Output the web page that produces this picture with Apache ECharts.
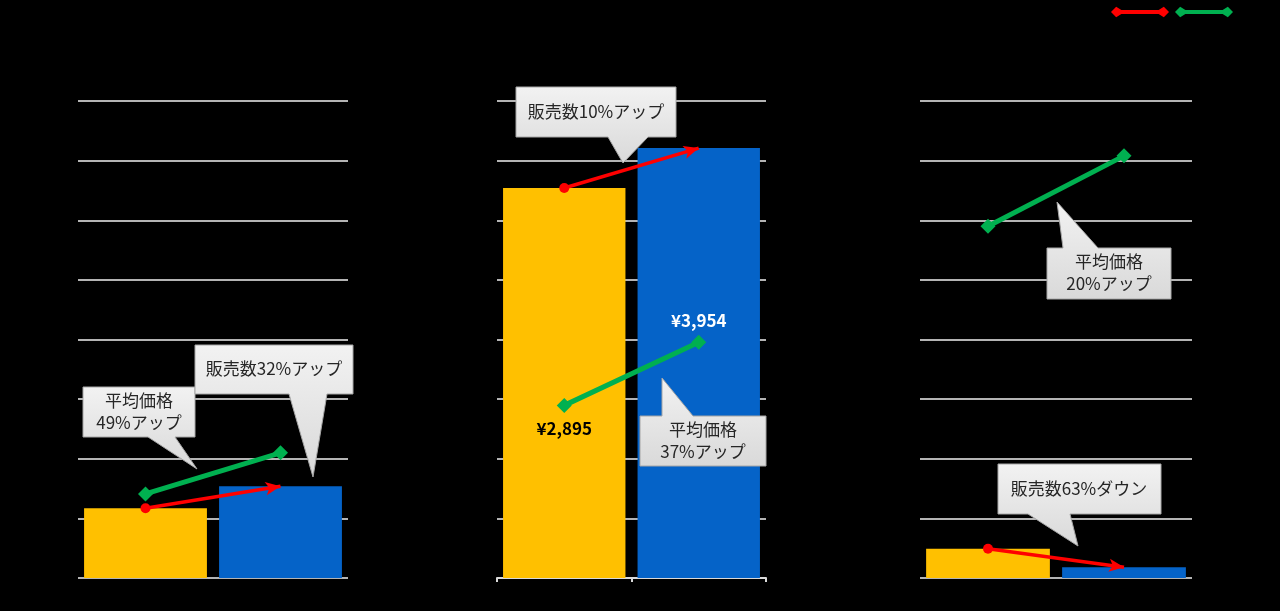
<!DOCTYPE html>
<html>
<head>
<meta charset="utf-8">
<script src="https://cdn.jsdelivr.net/npm/echarts@6/dist/echarts.min.js"></script>
<style>
  html, body { margin: 0; padding: 0; background: #000; }
  #main { width: 1280px; height: 611px; }
</style>
</head>
<body>
<div id="main"></div>
<script>
// 前年 / 今年
var categories = ['前年', '今年'];

// 販売数 (bars + red arrows)
var salesLeft = [1.17, 1.54];
var salesMid = [6.54, 7.21];
var salesRight = [0.49, 0.18];

// 平均価格 (green lines)
var priceLeft = [1410, 2100];
var priceMid = [2895, 3954];
var priceRight = [5900, 7080];

var barColors = ['#FFC000', '#0563C8'];
var fontJP = '"Noto Sans CJK JP", "Noto Sans", sans-serif';

var chart = echarts.init(document.getElementById('main'));

var grids = [
  { left: 78, width: 270, top: 101, height: 477 },
  { left: 497, width: 269, top: 101, height: 477 },
  { left: 920, width: 272, top: 101, height: 477 }
];

var xAxes = [], yAxes = [], series = [];
var salesSets = [salesLeft, salesMid, salesRight];
var priceSets = [priceLeft, priceMid, priceRight];

function redData(sales, rot) {
  return [
    { value: sales[0], symbol: 'circle', symbolSize: 10 },
    { value: sales[1], symbol: 'arrow', symbolSize: [10, 15], symbolRotate: rot }
  ];
}

for (var i = 0; i < 3; i++) {
  xAxes.push({
    type: 'category', gridIndex: i, data: categories,
    axisLine: { show: i == 1, lineStyle: { color: '#d9d9d9', width: 2 } },
    axisTick: { show: i == 1, length: 4, lineStyle: { color: '#d9d9d9', width: 2 } },
    axisLabel: { show: false }
  });
  yAxes.push({
    type: 'value', gridIndex: i, min: 0, max: 8, interval: 1,
    axisLabel: { show: false }, axisLine: { show: false }, axisTick: { show: false },
    splitLine: { show: true, lineStyle: { color: '#b4b4b4', width: 2 } }
  });
  yAxes.push({
    type: 'value', gridIndex: i, min: 0, max: 8000, interval: 1000, show: false,
    splitLine: { show: false }
  });

  var sales = salesSets[i];
  var price = priceSets[i];

  series.push({
    type: 'bar', name: 'bars' + i, xAxisIndex: i, yAxisIndex: i * 2,
    barCategoryGap: '9%',
    data: sales.map(function (v, k) { return { value: v, itemStyle: { color: barColors[k] } }; }),
    z: 2
  });

  series.push({
    type: 'line', name: '販売数', id: 'red' + i, xAxisIndex: i, yAxisIndex: i * 2,
    data: redData(sales, 0),
    lineStyle: { color: '#ff0000', width: 3.5 },
    itemStyle: { color: '#ff0000' },
    z: 4
  });

  var priceLabel = i == 1;
  series.push({
    type: 'line', name: '平均価格', xAxisIndex: i, yAxisIndex: i * 2 + 1,
    symbol: 'diamond', symbolSize: 15,
    data: [
      { value: price[0], label: { show: priceLabel, position: 'bottom', distance: 7, color: '#000' } },
      { value: price[1], label: { show: priceLabel, position: 'top', distance: 6, color: '#fff' } }
    ],
    label: {
      fontFamily: fontJP, fontWeight: 'bold', fontSize: 17,
      formatter: function (p) { return '¥' + p.value.toLocaleString('en-US'); }
    },
    lineStyle: { color: '#00b050', width: 5 },
    itemStyle: { color: '#00b050' },
    z: 5
  });
}

// speech bubbles
var bubbles = [
  { pts: [[83,387],[195,387],[195,437],[175,437],[197,469],[148,437],[83,437]], text: '平均価格\n49%アップ', c: [139, 412] },
  { pts: [[195,345],[353,345],[353,394],[327,394],[313,477],[289,394],[195,394]], text: '販売数32%アップ', c: [274, 369] },
  { pts: [[516,87],[676,87],[676,137],[648,137],[623,163],[608,137],[516,137]], text: '販売数10%アップ', c: [596, 112] },
  { pts: [[640,416],[662,416],[662,378],[693,416],[766,416],[766,466],[640,466]], text: '平均価格\n37%アップ', c: [703, 441] },
  { pts: [[1047,248],[1063,248],[1057,202],[1098,248],[1171,248],[1171,299],[1047,299]], text: '平均価格\n20%アップ', c: [1109, 273] },
  { pts: [[998,464],[1161,464],[1161,514],[1070,514],[1078,546],[1028,514],[998,514]], text: '販売数63%ダウン', c: [1079, 489] }
];

var graphics = [];
bubbles.forEach(function (b) {
  graphics.push({
    type: 'polygon', z: 100,
    shape: { points: b.pts },
    style: {
      fill: new echarts.graphic.LinearGradient(0, 0, 0, 1, [
        { offset: 0, color: '#f2f2f2' }, { offset: 1, color: '#d9d9d9' }
      ]),
      stroke: '#a6a6a6', lineWidth: 1
    }
  });
  graphics.push({
    type: 'text', z: 101, x: b.c[0], y: b.c[1],
    style: {
      text: b.text, fill: '#262626', font: '17px ' + fontJP,
      align: 'center', verticalAlign: 'middle', lineHeight: 22
    }
  });
});

var legendIcon = 'path://M0,5 L5,0 L10,3 L46,3 L51,0 L56,5 L51,10 L46,7 L10,7 L5,10 Z';

chart.setOption({
  backgroundColor: '#000',
  animation: false,
  legend: {
    left: 1106, top: 1,
    itemWidth: 58, itemHeight: 12, itemGap: 6,
    formatter: function () { return ''; },
    data: [
      { name: '販売数', icon: legendIcon, itemStyle: { color: '#ff0000' } },
      { name: '平均価格', icon: legendIcon, itemStyle: { color: '#00b050' } }
    ]
  },
  grid: grids,
  xAxis: xAxes,
  yAxis: yAxes,
  series: series,
  graphic: graphics
});

// turn the arrowheads along the red segments
var updates = [];
for (var j = 0; j < 3; j++) {
  var finder = { xAxisIndex: j, yAxisIndex: j * 2 };
  var p0 = chart.convertToPixel(finder, [0, salesSets[j][0]]);
  var p1 = chart.convertToPixel(finder, [1, salesSets[j][1]]);
  var ang = Math.atan2(-(p1[1] - p0[1]), p1[0] - p0[0]) * 180 / Math.PI;
  updates.push({ id: 'red' + j, data: redData(salesSets[j], ang - 90) });
}
chart.setOption({ series: updates });
</script>
</body>
</html>
